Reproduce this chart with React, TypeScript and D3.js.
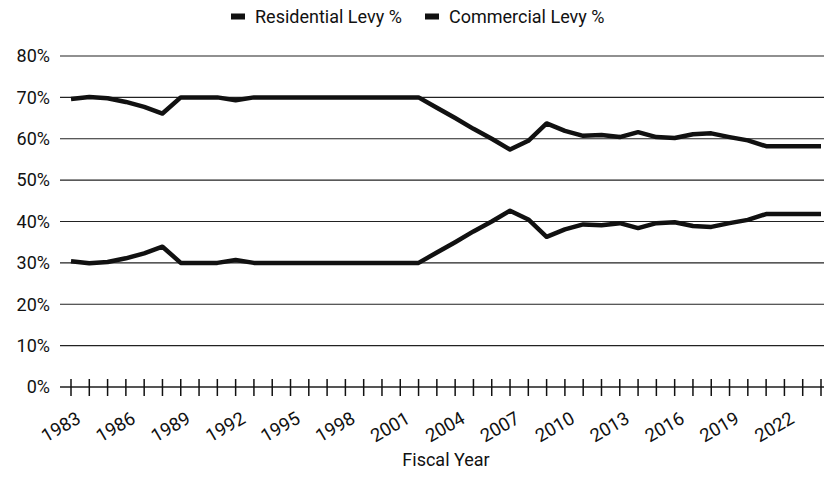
import * as d3 from 'd3'

const years = d3.range(1983, 2025)
const commercial = [
  30.4, 29.9, 30.2, 31.1, 32.3, 33.9, 30.0, 30.0, 30.0, 30.7, 30.0, 30.0, 30.0, 30.0,
  30.0, 30.0, 30.0, 30.0, 30.0, 30.0, 32.5, 35.0, 37.6, 40.0, 42.6, 40.5, 36.3, 38.1,
  39.3, 39.1, 39.6, 38.4, 39.6, 39.8, 38.9, 38.7, 39.6, 40.4, 41.8, 41.8, 41.8, 41.8,
]
const residential = [
  69.6, 70.1, 69.8, 68.9, 67.7, 66.1, 70.0, 70.0, 70.0, 69.3, 70.0, 70.0, 70.0, 70.0,
  70.0, 70.0, 70.0, 70.0, 70.0, 70.0, 67.5, 65.0, 62.4, 60.0, 57.4, 59.5, 63.7, 61.9,
  60.7, 60.9, 60.4, 61.6, 60.4, 60.2, 61.1, 61.3, 60.4, 59.6, 58.2, 58.2, 58.2, 58.2,
]
const seriesNames = ['Residential Levy %', 'Commercial Levy %']
const yTicks = [0, 10, 20, 30, 40, 50, 60, 70, 80]

export default function App() {
  const W = 826
  const H = 491
  const font = 'Roboto, sans-serif'
  const x = d3.scaleLinear().domain([1983, 2024]).range([71, 821])
  const y = d3.scaleLinear().domain([0, 80]).range([387, 56])
  const line = d3
    .line<number>()
    .x((_, i) => x(years[i]))
    .y((d) => y(d))
  const data = [residential, commercial]

  return (
    <svg width={W} height={H} style={{ position: 'absolute', left: 0, top: 0, background: '#fff' }} fontFamily={font}>
      {/* legend */}
      {seriesNames.map((name, i) => {
        const lx = i === 0 ? 231 : 425
        return (
          <g key={name}>
            <rect x={lx} y={13.5} width={14} height={6} fill="#111" />
            <text x={lx + 24} y={22.5} fontSize={18} fill="#111">{name}</text>
          </g>
        )
      })}

      {/* gridlines + y labels */}
      {yTicks.map((t) => (
        <g key={t}>
          {t > 0 && <line x1={60} x2={824} y1={y(t)} y2={y(t)} stroke="#222" strokeWidth={1.1} />}
          <text x={50} y={y(t)} dy="0.35em" textAnchor="end" fontSize={18} fill="#111">{t + '%'}</text>
        </g>
      ))}

      {/* baseline + ticks */}
      <line x1={60} x2={824} y1={y(0)} y2={y(0)} stroke="#555" strokeWidth={2} />
      {years.map((yr) => (
        <line key={yr} x1={x(yr)} x2={x(yr)} y1={379} y2={396} stroke="#111" strokeWidth={1.5} />
      ))}
      {years.filter((yr) => (yr - 1983) % 3 === 0).map((yr) => (
        <text
          key={yr}
          transform={`translate(${x(yr) + 11},${422}) rotate(-30)`}
          textAnchor="end"
          fontSize={18.5}
          fill="#111"
        >
          {yr}
        </text>
      ))}

      {/* series */}
      {data.map((vals, i) => (
        <path key={i} d={line(vals) ?? ''} fill="none" stroke="#111" strokeWidth={4.5} strokeLinejoin="round" />
      ))}

      <text x={446} y={466} textAnchor="middle" fontSize={18} fill="#111">Fiscal Year</text>
    </svg>
  )
}
